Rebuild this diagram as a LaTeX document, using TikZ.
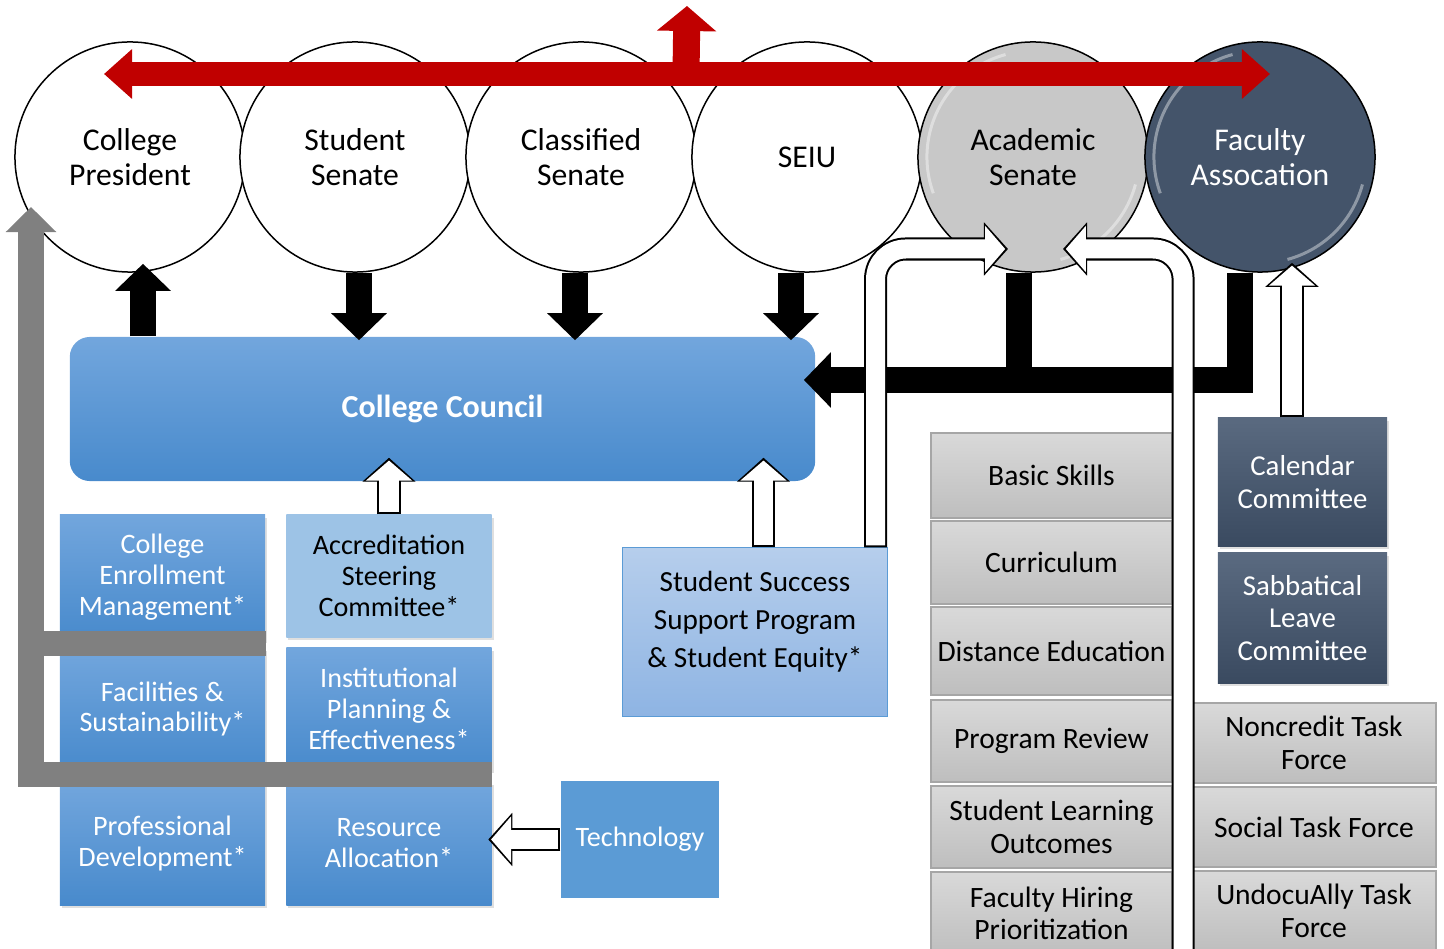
\documentclass[tikz,border=0pt]{standalone}
\usepackage{fontspec}
\setmainfont{Carlito}
\usetikzlibrary{arrows.meta,calc,shadows}

\definecolor{govred}{RGB}{192,0,0}
\definecolor{bluetop}{RGB}{114,166,221}
\definecolor{bluebot}{RGB}{72,138,204}
\definecolor{lightblue}{RGB}{157,195,230}
\definecolor{paletop}{RGB}{182,206,236}
\definecolor{palebot}{RGB}{142,180,227}
\definecolor{techblue}{RGB}{91,155,213}
\definecolor{graytop}{RGB}{217,217,217}
\definecolor{graybot}{RGB}{190,190,190}
\definecolor{acadgray}{RGB}{200,200,200}
\definecolor{slate}{RGB}{68,84,106}
\definecolor{slatetop}{RGB}{90,106,128}
\definecolor{slatebot}{RGB}{58,74,96}
\definecolor{barray}{RGB}{128,128,128}

\tikzset{
  circ/.style={circle, draw=black, line width=0.015cm, fill=white, minimum size=2.3cm,
    inner sep=0pt, align=center, font=\fontsize{9}{10}\selectfont},
  council/.style={rectangle, rounded corners=0.2cm, top color=bluetop, bottom color=bluebot,
    minimum width=7.45cm, minimum height=1.44cm, text=white,
    font=\fontsize{9.1}{10}\selectfont\bfseries},
  bluebox/.style={rectangle, top color=bluetop, bottom color=bluebot, text=white,
    minimum width=2.05cm, minimum height=1.22cm, inner sep=1pt, align=center,
    font=\fontsize{8}{8.8}\selectfont,
    drop shadow={opacity=0.25, shadow xshift=0.02cm, shadow yshift=-0.03cm}},
  accrbox/.style={bluebox, top color=lightblue, bottom color=lightblue, text=black},
  ssbox/.style={rectangle, top color=paletop, bottom color=palebot, draw=techblue,
    line width=0.01cm, minimum width=2.64cm, minimum height=1.68cm, align=center,
    font=\fontsize{8.3}{10.8}\selectfont},
  techbox/.style={rectangle, fill=techblue, text=white, minimum width=1.58cm,
    minimum height=1.17cm, font=\fontsize{8}{9}\selectfont},
  graybox/.style={rectangle, top color=graytop, bottom color=graybot, draw=gray!70,
    line width=0.02cm, minimum width=2.41cm, inner sep=1pt, align=center,
    font=\fontsize{8.4}{9.2}\selectfont},
  slatebox/.style={rectangle, top color=slatetop, bottom color=slatebot, text=white,
    minimum width=1.69cm, align=center, font=\fontsize{8.2}{9.2}\selectfont,
    drop shadow={opacity=0.25, shadow xshift=0.02cm, shadow yshift=-0.03cm}},
  taskbox/.style={graybox, minimum width=2.44cm, minimum height=0.8cm},
  blk/.style={line width=0.26cm, -{Triangle[width=0.54cm,length=0.27cm]}},
  blkline/.style={line width=0.26cm},
  redarrow/.style={govred, line width=0.24cm},
  gryarrow/.style={barray, line width=0.25cm},
  hollowout/.style={black, line width=0.23cm, -{Triangle[width=0.52cm,length=0.24cm]}},
  hollowin/.style={white, line width=0.19cm, -{Triangle[width=0.45cm,length=0.20cm]},
    shorten >=0.028cm, shorten <=0.02cm},
  gloss/.style={white, opacity=0.4, line width=0.03cm}
}

\begin{document}
\begin{tikzpicture}[x=0.01cm, y=-0.01cm]
\useasboundingbox (0,0) rectangle (1444,949);
\clip (0,0) rectangle (1444,949);

% groups
\node[circ] (pres) at (130,157) {College\\President};
\node[circ] (stud) at (355,157) {Student\\Senate};
\node[circ] (clas) at (581,157) {Classified\\Senate};
\node[circ] (seiu) at (807,157) {SEIU};
\node[circ, fill=acadgray] (acad) at (1033,157) {Academic\\Senate};
\node[circ, fill=slate, text=white] (fac) at (1260,157) {Faculty\\Assocation};

% shine on the two senates
\foreach \c in {acad,fac}{
  \draw[gloss] ($(\c.center)+(105:1.06cm)$) arc[start angle=105, end angle=200, radius=1.06cm];
  \draw[gloss] ($(\c.center)+(-15:1.06cm)$) arc[start angle=-15, end angle=-75, radius=1.06cm];
}

% red arrows on top
\coordinate (redmid) at ($(pres.center)!0.5!(fac.center)+(-9,-83)$);
\draw[redarrow, {Triangle[width=0.48cm,length=0.28cm]}-{Triangle[width=0.48cm,length=0.28cm]}]
  ($(pres.center)+(-26,-83)$) -- ($(fac.center)+(10,-83)$);
\draw[redarrow, line width=0.27cm, -{Triangle[width=0.58cm,length=0.25cm]}]
  (redmid) -- ++(1,-68);

\node[council] (council) at (442.5,409) {College Council};

% black arrows
\draw[blk] ([xshift=0.13cm]pres.south |- council.north) -- ([xshift=0.13cm,yshift=0.09cm]pres.south);
\draw[blk, shorten >=-0.04cm] ([xshift=0.04cm]stud.south) -- ([xshift=0.04cm]stud.south |- council.north);
\draw[blk, shorten >=-0.04cm] ([xshift=-0.06cm]clas.south) -- ([xshift=-0.06cm]clas.south |- council.north);
\draw[blk, shorten >=-0.04cm] ([xshift=-0.16cm]seiu.south) -- ([xshift=-0.16cm]seiu.south |- council.north);
\coordinate (join) at ([yshift=0.29cm]council.east);
\draw[blk, shorten >=-0.12cm] ([xshift=-0.2cm]fac.south) |- (join);
\draw[blkline] ([xshift=-0.14cm]acad.south) -- ([xshift=-0.14cm]acad.south |- join);

% council committees
\node[bluebox, minimum height=1.25cm] (cem) at (162.5,577.5) {College\\Enrollment\\Management*};
\node[bluebox] (fs) at (162.5,709) {Facilities \&\\Sustainability*};
\node[bluebox, minimum height=1.23cm] (pd) at (162.5,843.5) {Professional\\Development*};
\node[accrbox] (accr) at (389,576) {Accreditation\\Steering\\Committee*};
\node[bluebox] (ipe) at (389,709) {Institutional\\Planning \&\\Effectiveness*};
\node[bluebox, minimum height=1.23cm] (ra) at (389,843.5) {Resource\\Allocation*};
\node[ssbox] (ssp) at (755,632) {Student Success\\Support Program\\\& Student Equity*\\[-3.5pt]\mbox{}};
\node[techbox] (tech) at (640,839.5) {Technology};

% academic senate committees
\node[graybox, minimum height=0.85cm] (bs) at (1051.5,475.5) {Basic Skills};
\node[graybox, minimum height=0.83cm] (cur) at (1051.5,562.5) {Curriculum};
\node[graybox, minimum height=0.88cm] (de) at (1051.5,651) {Distance Education};
\node[graybox, minimum height=0.82cm] (pr) at (1051.5,741) {Program Review};
\node[graybox, minimum height=0.82cm] (slo) at (1051.5,827) {Student Learning\\Outcomes};
\node[graybox, minimum height=0.83cm] (fhp) at (1051.5,913.5) {Faculty Hiring\\Prioritization};

% faculty association committees
\node[slatebox, minimum height=1.28cm] (cal) at (1302.5,482) {Calendar\\Committee};
\node[slatebox, minimum height=1.30cm] (sab) at (1302.5,618) {Sabbatical\\Leave\\Committee};
\node[taskbox] (ncr) at (1314,743) {Noncredit Task\\Force};
\node[taskbox] (soc) at (1314,827) {Social Task Force};
\node[taskbox] (und) at (1314,911) {UndocuAlly Task\\Force};

% gray arrow to the president
\coordinate (gtip) at ($(pres.center)+(-99,50)$);
\draw[gryarrow] ([yshift=-0.03cm]cem.south east) -- ([yshift=-0.03cm]cem.south east -| gtip);
\draw[gryarrow, -{Triangle[width=0.49cm,length=0.25cm]}] ([yshift=0.07cm]ra.north east) -| (gtip);

% hollow arrows
\coordinate (acadL) at ($(acad.center)+(-25,92)$);
\coordinate (acadR) at ($(acad.center)+(30,92)$);
\foreach \s in {hollowout,hollowin}{
  \draw[\s, rounded corners=0.3cm] ([xshift=-0.12cm]ssp.north east) |- (acadL);
  \draw[\s, rounded corners=0.3cm] ([xshift=0.10cm]fhp.south east) |- (acadR);
  \draw[\s] (accr.north) -- ([yshift=0.24cm]accr.north |- council.south);
  \draw[\s] ([xshift=0.085cm]ssp.north) -- ([xshift=0.085cm,yshift=0.24cm]ssp.north |- council.south);
  \draw[\s] ([xshift=-0.105cm]cal.north) -- ([xshift=-0.105cm,yshift=0.1cm]cal.north |- fac.south);
  \draw[\s] (tech.west) -- ([xshift=-0.04cm]tech.west -| ra.east);
}
\end{tikzpicture}
\end{document}
